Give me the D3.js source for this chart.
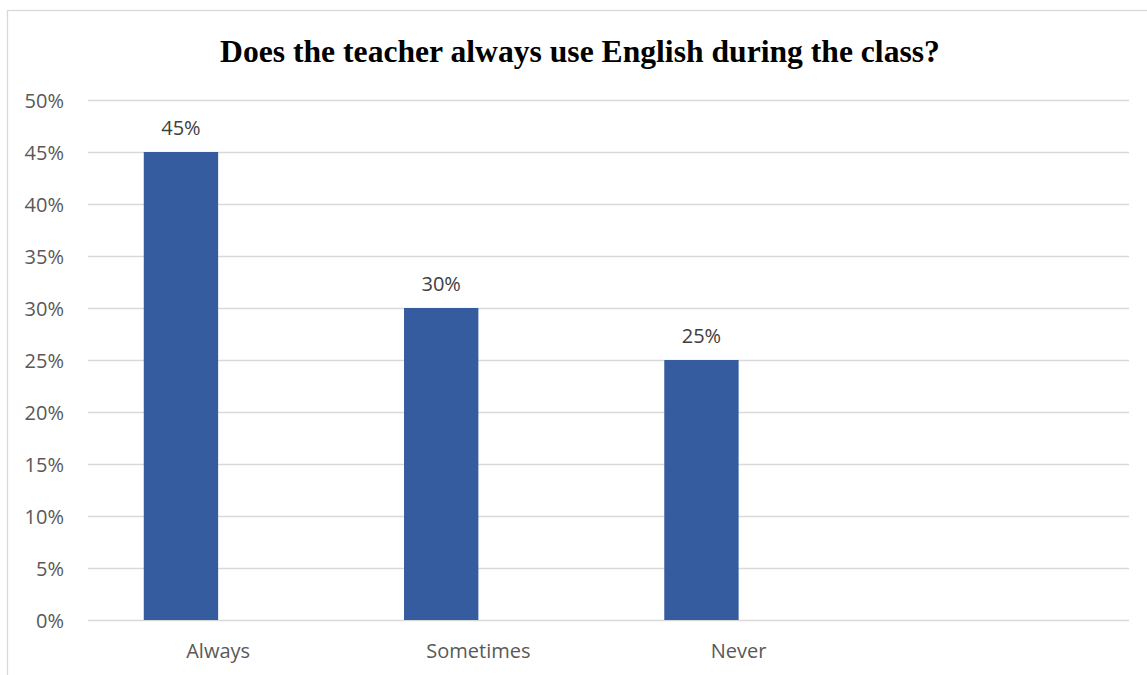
<!DOCTYPE html>
<html>
<head>
<meta charset="utf-8">
<script src="https://cdn.jsdelivr.net/npm/d3@7"></script>
<style>
  html, body { margin: 0; padding: 0; background: #ffffff; }
  svg { display: block; }
</style>
</head>
<body>
<svg id="chart" width="1147" height="675"></svg>
<script>
const title = "Does the teacher always use English during the class?";
const categories = ["Always", "Sometimes", "Never", ""];
const seriesNames = ["Series1", "Series2"];
const series1 = [0.45, 0.30, 0.25, null];
const series2 = [null, null, null, null];
const yTicks = [0, 0.05, 0.10, 0.15, 0.20, 0.25, 0.30, 0.35, 0.40, 0.45, 0.50];

const svg = d3.select("#chart");
const W = 1147, H = 675;
const plot = { left: 88, right: 1129, top: 100, bottom: 620 };

// chart border
svg.append("rect")
  .attr("x", 7.5).attr("y", 10.5)
  .attr("width", 1160).attr("height", 700)
  .attr("fill", "#ffffff")
  .attr("stroke", "#d9d9d9").attr("stroke-width", 1.3);

const x = d3.scaleBand().domain(categories).range([plot.left, plot.right]).padding(0);
const xs = d3.scaleBand().domain(seriesNames).range([0, x.bandwidth()])
  .paddingInner(0).paddingOuter(0.75);
const y = d3.scaleLinear().domain([0, 0.5]).range([plot.bottom, plot.top]);

const fmt = d3.format(".0%");
const sans = "'Open Sans', 'Noto Sans', sans-serif";
const fs = "20px";

// gridlines
svg.append("g").selectAll("line").data(yTicks).join("line")
  .attr("x1", plot.left).attr("x2", plot.right)
  .attr("y1", d => Math.round(y(d)) + 0.5).attr("y2", d => Math.round(y(d)) + 0.5)
  .attr("stroke", "#d9d9d9").attr("stroke-width", 1.3);

// y axis labels
const yAxis = d3.axisLeft(y).tickValues(yTicks).tickFormat(fmt).tickSize(0).tickPadding(0);
const gy = svg.append("g").attr("transform", `translate(64,0)`).call(yAxis);
gy.select(".domain").remove();
gy.selectAll("text")
  .attr("fill", "#595959").style("font-family", sans).style("font-size", fs)
  .attr("dy", "0.36em");

// x axis labels
const xAxis = d3.axisBottom(x).tickSize(0).tickPadding(0);
const gx = svg.append("g").attr("transform", `translate(0,${plot.bottom})`).call(xAxis);
gx.select(".domain").remove();
gx.selectAll("text")
  .attr("fill", "#595959").style("font-family", sans).style("font-size", fs)
  .attr("y", 38).attr("dy", 0);

// bars
const rows = categories.map((c, i) => ({ cat: c, vals: [series1[i], series2[i]] }));
const gBars = svg.append("g");
rows.forEach(r => {
  r.vals.forEach((v, j) => {
    if (v == null) return;
    const bx = x(r.cat) + xs(seriesNames[j]);
    gBars.append("rect")
      .attr("x", bx).attr("width", xs.bandwidth())
      .attr("y", y(v)).attr("height", y(0) - y(v))
      .attr("fill", "#355c9e");
    gBars.append("text")
      .attr("x", bx + xs.bandwidth() / 2).attr("y", y(v) - 17)
      .attr("text-anchor", "middle")
      .attr("fill", "#404040").style("font-family", sans).style("font-size", fs)
      .text(fmt(v));
  });
});

// title
const t = svg.append("text")
  .attr("x", 580).attr("y", 62)
  .attr("text-anchor", "middle")
  .style("font-family", "'Liberation Serif', 'Times New Roman', serif")
  .style("font-weight", "bold").style("font-size", "29px")
  .attr("fill", "#000000")
  .text(title);
const tw = t.node().getComputedTextLength();
if (tw > 0) t.style("font-size", (29 * 720 / tw).toFixed(2) + "px");
</script>
</body>
</html>
